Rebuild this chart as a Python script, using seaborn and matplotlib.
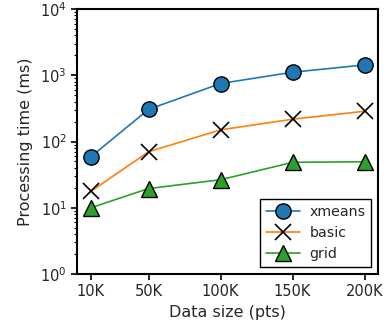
import matplotlib
matplotlib.use("Agg")
import matplotlib.pyplot as plt
import seaborn as sns
import pandas as pd
from matplotlib.ticker import FixedLocator, LogLocator

sizes = [10000, 50000, 100000, 150000, 200000]
size_labels = ["10K", "50K", "100K", "150K", "200K"]
xmeans = [59, 305, 750, 1110, 1430]
basic = [17.7, 70, 150, 217, 286]
grid = [10, 19.5, 26.5, 48.5, 49.5]

sns.set_theme(style="ticks")
plt.rcParams["font.family"] = ["DejaVu Sans"]

fig, ax = plt.subplots(figsize=(3.9, 3.31), dpi=100)

series = [
    ("xmeans", xmeans, dict(color="#1f77b4", marker="o", markerfacecolor="#1f77b4",
                            markeredgecolor="black", markersize=11)),
    ("basic", basic, dict(color="#ff7f0e", marker="x", markeredgecolor="black",
                          markersize=12, markeredgewidth=1.2)),
    ("grid", grid, dict(color="#2ca02c", marker="^", markerfacecolor="#2ca02c",
                        markeredgecolor="black", markersize=12)),
]
for name, vals, kw in series:
    df = pd.DataFrame({"size": sizes, "time": vals})
    sns.lineplot(data=df, x="size", y="time", ax=ax, label=name,
                 linewidth=1.2, markeredgewidth=kw.pop("markeredgewidth", 1.0), **kw)

ax.set_yscale("log")
ax.set_ylim(1, 1e4)
ax.xaxis.set_major_locator(FixedLocator(sizes))
ax.set_xticklabels(size_labels)
ax.yaxis.set_major_locator(LogLocator(base=10, numticks=10))
ax.yaxis.set_minor_locator(LogLocator(base=10, subs=range(2, 10), numticks=10))

for sp in ax.spines.values():
    sp.set_visible(True)
    sp.set_linewidth(1.5)
    sp.set_color("black")
ax.tick_params(axis="both", which="major", labelsize=10.5, length=4, width=1.2, color="black")
ax.tick_params(axis="y", which="minor", length=2.5, width=0.8, color="black")

ax.set_xlabel("Data size (pts)", fontsize=11.5)
ax.set_ylabel("Processing time (ms)", fontsize=11.5, labelpad=5)

leg = ax.legend(loc="lower right", fontsize=10.2, fancybox=False, framealpha=1,
                handlelength=2.4, handletextpad=0.7)
leg.get_frame().set_edgecolor("black")
leg.get_frame().set_linewidth(1.0)

fig.subplots_adjust(left=0.198, right=0.97, top=0.973, bottom=0.172)
fig.savefig("out.png", dpi=100)
